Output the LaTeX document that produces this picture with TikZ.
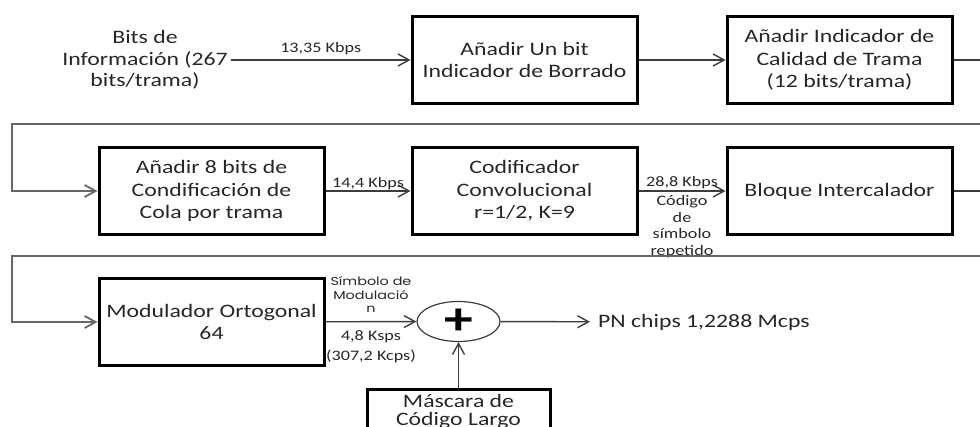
\documentclass[tikz,border=0pt]{standalone}
\usepackage{fontspec}
\setmainfont{Carlito}[FakeStretch=1.25]
\newfontfamily\fuentesimb{Poppins}[FakeStretch=1.25]
\usetikzlibrary{arrows.meta,positioning,shapes.geometric}
\definecolor{ctexto}{HTML}{262626}
\definecolor{clinea}{HTML}{3C3C3C}
\definecolor{cretorno}{HTML}{666666}
\tikzset{
  bloque/.style={draw=black,line width=3pt,align=center,text=ctexto,
                 minimum width=225pt,minimum height=87pt,inner sep=2pt,
                 font=\fontsize{19}{22.5}\selectfont},
  texto/.style={align=center,text=ctexto,inner sep=3pt,
                font=\fontsize{19}{21.5}\selectfont},
  sumador/.style={draw=clinea,line width=1.2pt,ellipse,minimum width=83pt,
                  minimum height=40pt,inner sep=0pt},
  flecha/.style={-{Straight Barb[length=11pt,width=12pt]},draw=clinea,line width=1.4pt},
  linea/.style={draw=clinea,line width=1.4pt},
  retorno/.style={flecha,draw=cretorno,line width=1.8pt},
  et/.style={font=\fontsize{14.5}{16.5}\selectfont,text=ctexto,inner sep=1pt,align=center},
  etm/.style={et,font=\fuentesimb\fontsize{11.5}{13.5}\selectfont},
}
\begin{document}
\begin{tikzpicture}[x=1pt,y=-1pt]
\useasboundingbox (0,0) rectangle (980,427);
\clip (0,0) rectangle (980,427);

% fila 1
\node[texto] (info) at (145,60) {Bits de\\Información (267\\bits/trama)};
\node[bloque] (borrado) at (524.5,60) {Añadir Un bit\\Indicador de Borrado};
\node[bloque] (calidad) at (839.5,60) {Añadir Indicador de\\Calidad de Trama\\(12 bits/trama)};
\coordinate (sal1) at (980,60);

% fila 2
\coordinate (ret1a) at (980,124);
\coordinate (ret1b) at (12,124);
\node[bloque] (cola) at (211.5,191) {Añadir 8 bits de\\Condificación de\\Cola por trama};
\node[bloque] (codif) at (524.5,191) {Codificador\\Convolucional\\r=1/2, K=9};
\node[bloque] (inter) at (839.5,191) {Bloque Intercalador};
\coordinate (sal2) at (980,191);

% fila 3
\coordinate (ret2a) at (980,256);
\coordinate (ret2b) at (12,256);
\node[bloque] (modul) at (211.5,322) {Modulador Ortogonal\\64};
\node[sumador] (suma) at (458.5,321.5) {\fontsize{46}{46}\selectfont\bfseries +};
\node[texto,anchor=west,inner xsep=8pt] (pn) at (590,322) {PN chips 1,2288 Mcps};
% la caja sigue por debajo del borde, como en el original
\node[bloque,anchor=north,minimum width=183pt,minimum height=44pt,inner ysep=0.5pt] (mascara) at (458.5,388)
  {Máscara de\\[-5pt]Código Largo};

\draw[flecha] (info.east) -- (borrado.west) node[et,midway,above=3pt] {13,35 Kbps};
\draw[flecha] (borrado) -- (calidad);
\draw[linea] (calidad) -- (sal1);
\draw[retorno] (ret1a) -- (ret1b) |- (cola.west);
\draw[flecha] (cola) -- (codif) node[et,midway,above=-1pt] {14,4 Kbps};
\draw[flecha] (codif) -- (inter)
  node[et,midway,above=0pt] {28,8 Kbps}
  node[et,midway,below=3pt] {Código\\de\\símbolo\\repetido};
\draw[linea] (inter) -- (sal2);
\draw[retorno] (ret2a) -- (ret2b) |- (modul.west);
\draw[flecha] (modul) -- (suma)
  node[etm,midway,above=7pt] {Símbolo de\\Modulació\\n}
  node[et,midway,below=7pt] {4,8 Ksps\\[3.5pt](307,2 Kcps)};
\draw[flecha] (suma) -- (pn);
\draw[flecha] (mascara) -- (suma);

\end{tikzpicture}
\end{document}
